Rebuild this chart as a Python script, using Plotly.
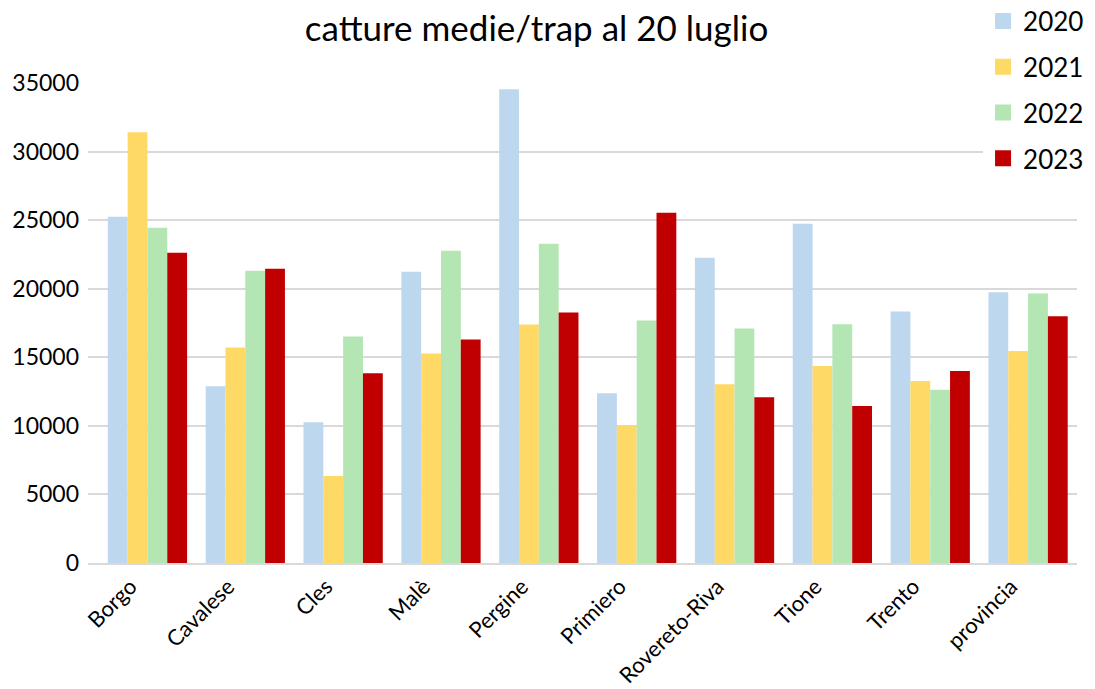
import plotly.graph_objects as go

categories = ["Borgo", "Cavalese", "Cles", "Malè", "Pergine", "Primiero",
              "Rovereto-Riva", "Tione", "Trento", "provincia"]
y2020 = [25240, 12880, 10270, 21240, 34540, 12380, 22260, 24730, 18340, 19740]
y2021 = [31410, 15720, 6350, 15280, 17390, 10030, 13030, 14370, 13270, 15450]
y2022 = [24440, 21310, 16520, 22770, 23270, 17680, 17100, 17400, 12630, 19660]
y2023 = [22620, 21460, 13830, 16300, 18260, 25530, 12090, 11450, 14000, 17990]
series_names = ["2020", "2021", "2022", "2023"]
colors = ["#BDD7EE", "#FFD966", "#B3E6B3", "#C00000"]
y_ticks = [0, 5000, 10000, 15000, 20000, 25000, 30000, 35000]

FONT = "Lato, 'Open Sans', sans-serif"

fig = go.Figure()
for name, vals, col in zip(series_names, [y2020, y2021, y2022, y2023], colors):
    fig.add_trace(go.Bar(x=categories, y=vals, name=name, marker_color=col,
                         marker_line_width=0, legendgroup=name, showlegend=False))
# legend entries with larger square swatches
for name, col in zip(series_names, colors):
    fig.add_trace(go.Scatter(x=[categories[0]], y=[None], mode="markers", name=name,
                             marker=dict(symbol="square", size=16, color=col),
                             legendgroup=name, showlegend=True, hoverinfo="skip"))

fig.update_layout(
    width=1095, height=689,
    margin=dict(l=88, r=18, t=83, b=126, autoexpand=False),
    paper_bgcolor="white", plot_bgcolor="white",
    font=dict(family=FONT, color="#000000"),
    title=dict(text="catture medie/trap al 20 luglio", x=0.49, xanchor="center",
               y=0.958, yanchor="middle", font=dict(size=35, family=FONT, color="#000000")),
    barmode="group", bargap=0.19, bargroupgap=0,
    legend=dict(x=0.905, xanchor="left", y=1.178, yanchor="top",
                font=dict(size=26, family=FONT), bgcolor="white",
                traceorder="grouped", tracegroupgap=9, itemsizing="trace"),
    xaxis=dict(showgrid=False, tickangle=-45, tickfont=dict(size=22),
               showline=True, linecolor="#d9d9d9", linewidth=2, ticks="",
               ticklabelshift=-17),
    yaxis=dict(range=[0, 35000], tickvals=y_ticks, ticktext=[str(v) for v in y_ticks],
               showgrid=True, gridcolor="#d9d9d9", gridwidth=2,
               zeroline=False, tickfont=dict(size=23), ticks="",
               ticklabelstandoff=8),
)

# remove the default 8px page margin so the figure fills the window exactly
fig.write_html("out.html", config={"displayModeBar": False},
               post_script="document.body.style.margin='0';")
